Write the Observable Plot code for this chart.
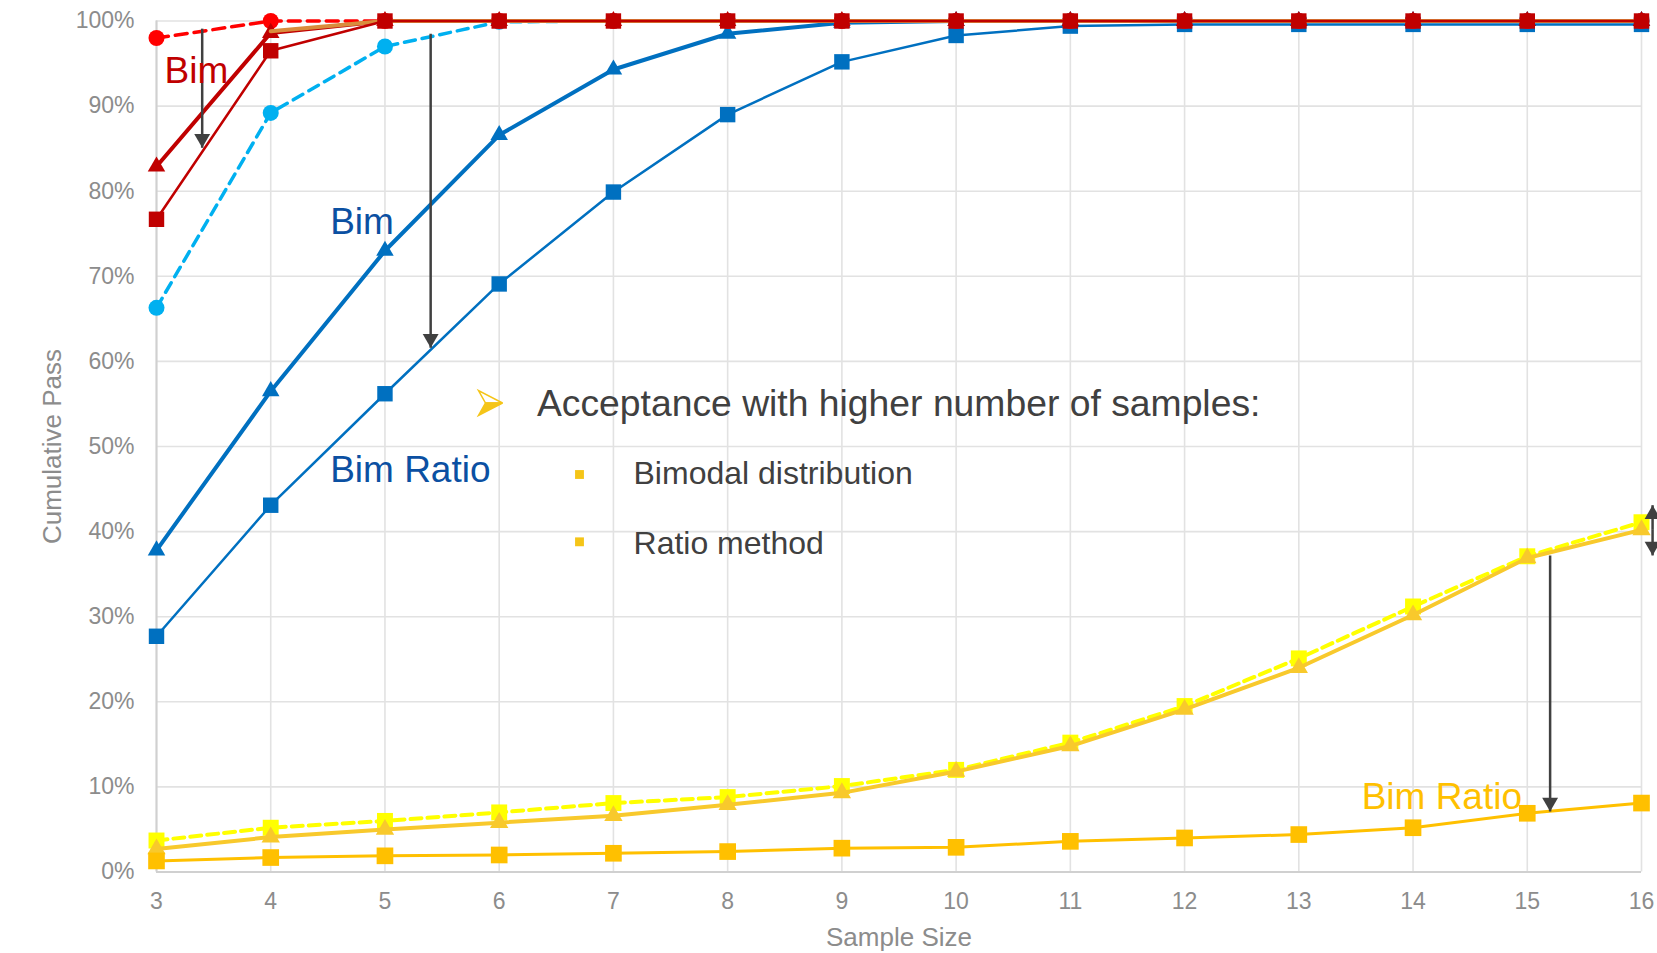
<!DOCTYPE html>
<html>
<head>
<meta charset="utf-8">
<script src="https://cdn.jsdelivr.net/npm/d3@7"></script>
<script src="https://cdn.jsdelivr.net/npm/@observablehq/plot@0.6"></script>
<style>
  html, body { margin: 0; padding: 0; background: #ffffff; }
  #chart svg { display: block; }
</style>
</head>
<body>
<div id="chart"></div>
<script>
// ---------- data ----------
const sampleSize = [3, 4, 5, 6, 7, 8, 9, 10, 11, 12, 13, 14, 15, 16];
const yTicks = [0, 0.1, 0.2, 0.3, 0.4, 0.5, 0.6, 0.7, 0.8, 0.9, 1.0];

const redCircleDashed   = [0.980, 1.000, 1, 1, 1, 1, 1, 1, 1, 1, 1, 1, 1, 1];
const redTriangle       = [0.829, 0.986, 1, 1, 1, 1, 1, 1, 1, 1, 1, 1, 1, 1];
const redSquare         = [0.767, 0.965, 1, 1, 1, 1, 1, 1, 1, 1, 1, 1, 1, 1];
const orangeLine        = [NaN, 0.988, 1, 1, 1, 1, 1, 1, 1, 1, 1, 1, 1, 1];
const lightBlueCircle   = [0.663, 0.892, 0.970, 0.999, 1, 1, 1, 1, 1, 1, 1, 1, 1, 1];
const blueTriangle      = [0.378, 0.565, 0.730, 0.866, 0.943, 0.985, 0.998, 1, 1, 1, 1, 1, 1, 1];
const blueSquare        = [0.277, 0.431, 0.562, 0.691, 0.799, 0.890, 0.952, 0.983, 0.994, 0.996, 0.996, 0.996, 0.996, 0.996];
const yellowSquareDash  = [0.037, 0.052, 0.060, 0.070, 0.081, 0.088, 0.101, 0.120, 0.152, 0.195, 0.251, 0.312, 0.371, 0.411];
const goldTriangle      = [0.027, 0.041, 0.050, 0.058, 0.066, 0.079, 0.093, 0.118, 0.148, 0.191, 0.240, 0.302, 0.369, 0.402];
const amberSquare       = [0.013, 0.017, 0.019, 0.020, 0.022, 0.024, 0.028, 0.029, 0.036, 0.040, 0.044, 0.052, 0.069, 0.081];

// annotation labels (data units)
const labels = [
  {x: 3.07,  y: 0.927, text: "Bim",       color: "#c00000"},
  {x: 4.52,  y: 0.750, text: "Bim",       color: "#0b50a2"},
  {x: 4.52,  y: 0.458, text: "Bim Ratio", color: "#0b50a2"},
  {x: 13.55, y: 0.0746, text: "Bim Ratio", color: "#ffc000"}
];
const noteHeading = [{x: 6.33, y: 0.5364, text: "Acceptance with higher number of samples:"}];
const noteArrow = [{x: 5.924, y: 0.5511}];
const noteBullets = [
  {x: 7.176, y: 0.4565, bx: 6.703, by: 0.4671, text: "Bimodal distribution"},
  {x: 7.176, y: 0.3740, bx: 6.703, by: 0.3880, text: "Ratio method"}
];
// arrows: x, tail y, tip y (data units)
const arrows = [
  {x: 3.40,   y1: 0.991, y2: 0.851},
  {x: 5.40,   y1: 0.985, y2: 0.616},
  {x: 15.20,  y1: 0.372, y2: 0.071},
  {x: 16.097, y1: 0.402, y2: 0.431},
  {x: 16.097, y1: 0.402, y2: 0.372}
];

// ---------- styles ----------
const seriesStyle = [
  {values: yellowSquareDash, stroke: "#ffff00", width: 4,   dash: "11,6", symbol: "square",   r: 9,   fill: "#ffff00"},
  {values: goldTriangle,     stroke: "#f8c92c", width: 4,   dash: null,   symbol: "triangle", r: 6.8, fill: "#f8c92c"},
  {values: amberSquare,      stroke: "#ffc000", width: 3,   dash: null,   symbol: "square",   r: 9.4, fill: "#ffc000"},
  {values: lightBlueCircle,  stroke: "#00b0f0", width: 3.5, dash: "11,7", symbol: "circle",   r: 8,   fill: "#00b0f0"},
  {values: blueSquare,       stroke: "#0070c0", width: 2.5, dash: null,   symbol: "square",   r: 8.7, fill: "#0070c0"},
  {values: blueTriangle,     stroke: "#0070c0", width: 4,   dash: null,   symbol: "triangle", r: 6.5, fill: "#0070c0"},
  {values: redCircleDashed,  stroke: "#ff0000", width: 3.5, dash: "12,7", symbol: "circle",   r: 8,   fill: "#ff0000"},
  {values: redTriangle,      stroke: "#c00000", width: 4,   dash: null,   symbol: "triangle", r: 6.5, fill: "#c00000"},
  {values: orangeLine,       stroke: "#d98c3c", width: 4,   dash: null,   symbol: null,       r: 0,   fill: "none"},
  {values: redSquare,        stroke: "#c00000", width: 2.5, dash: null,   symbol: "square",   r: 8.7, fill: "#c00000"}
];

const font = "Liberation Sans, Arial, Helvetica, sans-serif";
const gridColor = "#e2e2e2";
const axisColor = "#d0d0d0";
const tickColor = "#8c8c8c";
const arrowColor = "#404040";
const headR = 5.9;
const headTip = 2 * Math.sqrt(Math.PI * headR * headR / (3 * Math.sqrt(3)));

// bullet arrowhead symbols (upper outline half, lower filled half)
const bulletUpper = {draw(ctx) { ctx.moveTo(12, 0); ctx.lineTo(-12, -12.5); ctx.lineTo(-5, 0); ctx.closePath(); }};
const bulletLower = {draw(ctx) { ctx.moveTo(12, 0); ctx.lineTo(-5, 0); ctx.lineTo(-12, 12.5); ctx.closePath(); }};

const seriesMarks = seriesStyle.flatMap(s => {
  const data = sampleSize.map((x, i) => ({x, y: s.values[i]}));
  const m = [Plot.line(data, {x: "x", y: "y", stroke: s.stroke, strokeWidth: s.width,
    strokeDasharray: s.dash || undefined, strokeLinejoin: "round"})];
  if (s.symbol) m.push(Plot.dot(data, {x: "x", y: "y", symbol: s.symbol, r: s.r, fill: s.fill, stroke: "none"}));
  return m;
});

const downArrows = arrows.filter(d => d.y2 < d.y1);
const upArrows = arrows.filter(d => d.y2 > d.y1);

const chart = Plot.plot({
  width: 1657,
  height: 953,
  marginLeft: 156,
  marginRight: 16,
  marginTop: 20.5,
  marginBottom: 81.5,
  style: {fontFamily: font, background: "#ffffff", color: tickColor},
  x: {domain: [3, 16], type: "linear"},
  y: {domain: [0, 1]},
  marks: [
    Plot.gridY(yTicks, {stroke: gridColor, strokeOpacity: 1, strokeWidth: 1.6}),
    Plot.gridX(sampleSize, {stroke: gridColor, strokeOpacity: 1, strokeWidth: 1.6}),
    Plot.ruleX([3], {stroke: axisColor, strokeWidth: 2}),
    Plot.ruleY([0], {stroke: axisColor, strokeWidth: 2}),
    Plot.axisY({ticks: yTicks, tickFormat: d3.format(".0%"), tickSize: 0, tickPadding: 22,
      fontSize: 23, fill: tickColor, label: null}),
    Plot.axisX({ticks: sampleSize, tickFormat: d3.format("d"), tickSize: 0, tickPadding: 21,
      fontSize: 23, fill: tickColor, label: null}),
    Plot.text(["Cumulative Pass"], {frameAnchor: "left", dx: -104, rotate: -90, fontSize: 26,
      fill: tickColor, textAnchor: "middle"}),
    Plot.text(["Sample Size"], {frameAnchor: "bottom", dy: 74, lineAnchor: "bottom", fontSize: 26,
      fill: tickColor, textAnchor: "middle"}),
    ...seriesMarks,
    // arrows
    Plot.link(arrows, {x1: "x", x2: "x", y1: "y1", y2: "y2", stroke: arrowColor, strokeWidth: 2.5}),
    Plot.dot(downArrows, {x: "x", y: "y2", symbol: "triangle", r: headR, fill: arrowColor, stroke: "none",
      rotate: 180, dy: -headTip}),
    Plot.dot(upArrows, {x: "x", y: "y2", symbol: "triangle", r: headR, fill: arrowColor, stroke: "none",
      rotate: 0, dy: headTip}),
    // labels
    Plot.text(labels, {x: "x", y: "y", text: "text", fill: d => d.color, fontSize: 37,
      textAnchor: "start", lineAnchor: "bottom"}),
    Plot.dot(noteArrow, {x: "x", y: "y", symbol: bulletUpper, r: 5, fill: "#ffffff",
      stroke: "#f5c518", strokeWidth: 1.5}),
    Plot.dot(noteArrow, {x: "x", y: "y", symbol: bulletLower, r: 5, fill: "#f5c518",
      stroke: "#f5c518", strokeWidth: 1.5}),
    Plot.text(noteHeading, {x: "x", y: "y", text: "text", fill: "#404040", fontSize: 37.3,
      textAnchor: "start", lineAnchor: "bottom"}),
    Plot.dot(noteBullets, {x: "bx", y: "by", symbol: "square", r: 5, fill: "#f5c518", stroke: "none"}),
    Plot.text(noteBullets, {x: "x", y: "y", text: "text", fill: "#404040", fontSize: 32,
      textAnchor: "start", lineAnchor: "bottom"})
  ]
});

document.getElementById("chart").appendChild(chart);
</script>
</body>
</html>
